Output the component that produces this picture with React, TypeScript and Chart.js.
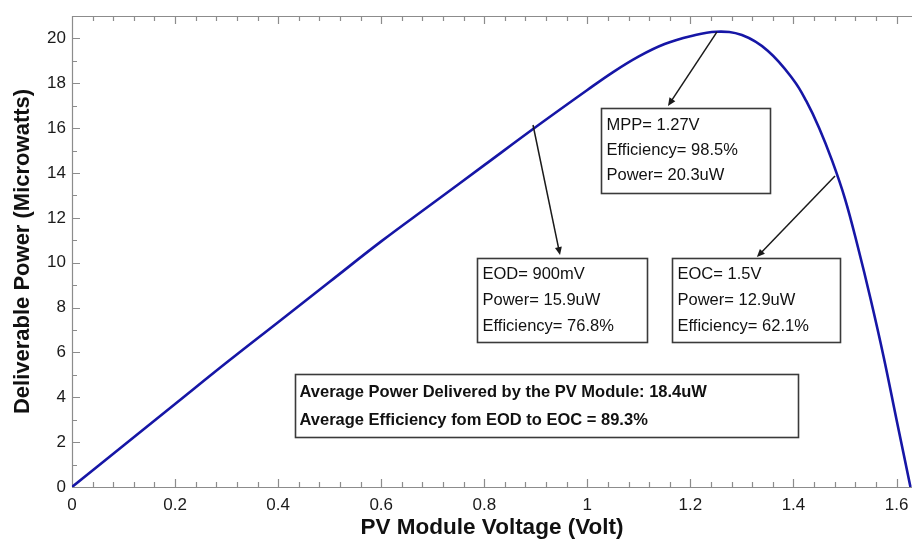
import React, { useEffect, useRef } from "react";
import { Chart, registerables } from "chart.js";

Chart.register(...registerables);

// ---- data ----
const voltage = [0, 0.1, 0.2, 0.3, 0.4, 0.5, 0.6, 0.7, 0.8, 0.9, 1.0, 1.05, 1.1, 1.15, 1.2, 1.25, 1.3, 1.35, 1.4, 1.425, 1.45, 1.475, 1.5, 1.525, 1.55, 1.575, 1.6, 1.627];
const power = [0, 1.85, 3.7, 5.55, 7.35, 9.15, 10.95, 12.65, 14.35, 16.05, 17.7, 18.5, 19.2, 19.75, 20.1, 20.3, 20.15, 19.45, 18.15, 17.2, 16.0, 14.55, 12.85, 10.7, 8.35, 5.8, 3.0, 0];

const xTickValues = [0, 0.2, 0.4, 0.6, 0.8, 1, 1.2, 1.4, 1.6];
const xTickLabels = ["0", "0.2", "0.4", "0.6", "0.8", "1", "1.2", "1.4", "1.6"];
const yTickValues = [0, 2, 4, 6, 8, 10, 12, 14, 16, 18, 20];
const yTickLabels = ["0", "2", "4", "6", "8", "10", "12", "14", "16", "18", "20"];

const xTitle = "PV Module Voltage (Volt)";
const yTitle = "Deliverable Power (Microwatts)";

const mppLines = ["MPP= 1.27V", "Efficiency= 98.5%", "Power= 20.3uW"];
const eodLines = ["EOD= 900mV", "Power= 15.9uW", "Efficiency= 76.8%"];
const eocLines = ["EOC= 1.5V", "Power= 12.9uW", "Efficiency= 62.1%"];
const avgLines = ["Average Power Delivered by the PV Module: 18.4uW", "Average Efficiency fom EOD to EOC = 89.3%"];

// ---- annotation placement (data units) ----
const boxes = [
  { lines: mppLines, x1: 1.026, x2: 1.354, y1: 16.88, y2: 13.12, bold: false, offsets: [17, 42, 67] },
  { lines: eodLines, x1: 0.7865, x2: 1.115, y1: 10.2, y2: 6.48, bold: false, offsets: [16, 42, 68] },
  { lines: eocLines, x1: 1.164, x2: 1.49, y1: 10.2, y2: 6.48, bold: false, offsets: [16, 42, 68] },
  { lines: avgLines, x1: 0.4327, x2: 1.4094, y1: 5.04, y2: 2.216, bold: true, offsets: [18, 46] },
];
const arrows = [
  { from: [1.2516, 20.29], to: [1.1565, 16.99] },
  { from: [0.8946, 16.14], to: [0.947, 10.34] },
  { from: [1.4806, 13.87], to: [1.329, 10.25] },
];

const FONT = "'Liberation Sans', Arial, Helvetica, sans-serif";

const framePlugin = {
  id: "frame",
  beforeDatasetsDraw(chart: any) {
    const { ctx, chartArea, scales } = chart;
    const { left, right, top, bottom } = chartArea;
    const x = scales.x;
    const y = scales.y;
    ctx.save();
    ctx.strokeStyle = "#8c8c8c";
    ctx.lineWidth = 1.2;
    ctx.beginPath();
    ctx.moveTo(left, top + 0.5);
    ctx.lineTo(right, top + 0.5);
    ctx.moveTo(left + 0.5, top);
    ctx.lineTo(left + 0.5, bottom);
    ctx.moveTo(left, bottom + 0.5);
    ctx.lineTo(right, bottom + 0.5);
    for (let i = 0; i <= 40; i++) {
      const px = Math.round(x.getPixelForValue(i * 0.04)) + 0.5;
      const len = i % 5 === 0 ? 8 : 5;
      ctx.moveTo(px, bottom);
      ctx.lineTo(px, bottom - len);
      ctx.moveTo(px, top);
      ctx.lineTo(px, top + len);
    }
    for (let i = 0; i <= 21; i++) {
      const py = Math.round(y.getPixelForValue(i)) + 0.5;
      const len = i % 2 === 0 ? 8 : 5;
      ctx.moveTo(left, py);
      ctx.lineTo(left + len, py);
    }
    ctx.stroke();
    ctx.restore();
  },
};

const notesPlugin = {
  id: "notes",
  afterDatasetsDraw(chart: any) {
    const { ctx, scales } = chart;
    const x = scales.x;
    const y = scales.y;
    ctx.save();
    ctx.strokeStyle = "#1a1a1a";
    ctx.fillStyle = "#1a1a1a";
    ctx.lineWidth = 1.5;
    for (const a of arrows) {
      const x1 = x.getPixelForValue(a.from[0]);
      const y1 = y.getPixelForValue(a.from[1]);
      const x2 = x.getPixelForValue(a.to[0]);
      const y2 = y.getPixelForValue(a.to[1]);
      const ang = Math.atan2(y2 - y1, x2 - x1);
      const hl = 8;
      const hw = 3.5;
      ctx.beginPath();
      ctx.moveTo(x1, y1);
      ctx.lineTo(x2 - Math.cos(ang) * hl * 0.8, y2 - Math.sin(ang) * hl * 0.8);
      ctx.stroke();
      ctx.beginPath();
      ctx.moveTo(x2, y2);
      ctx.lineTo(x2 - Math.cos(ang) * hl - Math.sin(ang) * hw, y2 - Math.sin(ang) * hl + Math.cos(ang) * hw);
      ctx.lineTo(x2 - Math.cos(ang) * hl + Math.sin(ang) * hw, y2 - Math.sin(ang) * hl - Math.cos(ang) * hw);
      ctx.closePath();
      ctx.fill();
    }
    for (const b of boxes) {
      const l = Math.round(x.getPixelForValue(b.x1)) + 0.5;
      const r = Math.round(x.getPixelForValue(b.x2)) + 0.5;
      const t = Math.round(y.getPixelForValue(b.y1)) + 0.5;
      const bt = Math.round(y.getPixelForValue(b.y2)) + 0.5;
      ctx.fillStyle = "#ffffff";
      ctx.fillRect(l, t, r - l, bt - t);
      ctx.strokeStyle = "#3a3a3a";
      ctx.lineWidth = 1.6;
      ctx.strokeRect(l, t, r - l, bt - t);
      ctx.fillStyle = "#111111";
      ctx.font = (b.bold ? "bold " : "") + "16.5px " + FONT;
      ctx.textBaseline = "middle";
      ctx.textAlign = "left";
      b.lines.forEach((line, i) => {
        ctx.fillText(line, l + (b.bold ? 4 : 5), t + b.offsets[i]);
      });
    }
    ctx.restore();
  },
};

export default function App() {
  const ref = useRef<HTMLCanvasElement>(null);
  useEffect(() => {
    document.body.style.margin = "0";
    const points = voltage.map((v, i) => ({ x: v, y: power[i] }));
    const chart = new Chart(ref.current as HTMLCanvasElement, {
      type: "line",
      data: {
        datasets: [
          {
            data: points,
            borderColor: "#1616a6",
            borderWidth: 2.6,
            pointRadius: 0,
            fill: false,
            tension: 0.4,
          },
        ],
      },
      options: {
        animation: false,
        responsive: false,
        maintainAspectRatio: false,
        layout: { padding: { top: 16, right: 0, left: 0, bottom: 0 } },
        plugins: { legend: { display: false }, tooltip: { enabled: false } },
        scales: {
          x: {
            type: "linear",
            min: 0,
            max: 1.63,
            grid: { display: false, drawTicks: false },
            border: { display: false },
            afterBuildTicks: (s: any) => {
              s.ticks = xTickValues.map((v) => ({ value: v }));
            },
            afterFit: (s: any) => {
              s.height = 54;
              s.paddingLeft = 0;
              s.paddingRight = 0;
            },
            ticks: {
              color: "#1a1a1a",
              padding: 8,
              maxRotation: 0,
              autoSkip: false,
              font: { family: FONT, size: 17 },
              callback: (_v: any, i: number) => xTickLabels[i],
            },
            title: {
              display: true,
              text: xTitle,
              color: "#111",
              padding: { top: 0, bottom: 0 },
              font: { family: FONT, size: 22.5, weight: "bold" },
            },
          },
          y: {
            type: "linear",
            min: 0,
            max: 21,
            grid: { display: false, drawTicks: false },
            border: { display: false },
            afterBuildTicks: (s: any) => {
              s.ticks = yTickValues.map((v) => ({ value: v }));
            },
            afterFit: (s: any) => {
              s.width = 72;
              s.paddingTop = 0;
              s.paddingBottom = 0;
            },
            ticks: {
              color: "#1a1a1a",
              padding: 6,
              autoSkip: false,
              font: { family: FONT, size: 17 },
              callback: (_v: any, i: number) => yTickLabels[i],
            },
            title: {
              display: true,
              text: yTitle,
              color: "#111",
              padding: { top: 10, bottom: 0 },
              font: { family: FONT, size: 22, weight: "bold" },
            },
          },
        },
      },
      plugins: [framePlugin, notesPlugin],
    } as any);
    return () => chart.destroy();
  }, []);
  return (
    <div style={{ width: 912, height: 541 }}>
      <canvas ref={ref} width={912} height={541} style={{ display: "block" }} />
    </div>
  );
}
